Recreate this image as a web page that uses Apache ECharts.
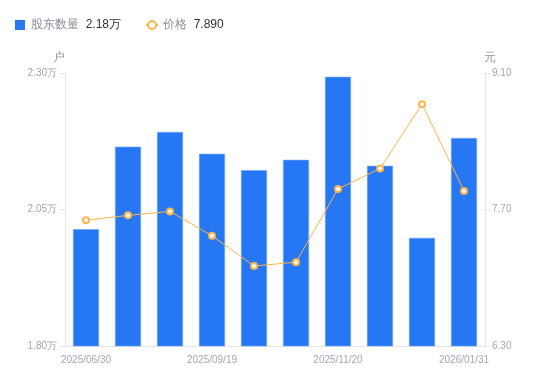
<!DOCTYPE html>
<html>
<head>
<meta charset="utf-8">
<script src="https://cdn.jsdelivr.net/npm/echarts@6/dist/echarts.min.js"></script>
<style>html,body{margin:0;padding:0;background:#fff;}#c{width:550px;height:381px;}</style>
</head>
<body>
<div id="c"></div>
<script>
const categories = ['2025/06/30','2025/07/31','2025/08/31','2025/09/19','2025/09/30','2025/10/31','2025/11/20','2025/11/30','2025/12/31','2026/01/31'];
const holders = [2.014, 2.165, 2.192, 2.152, 2.122, 2.141, 2.293, 2.130, 1.998, 2.181];
const prices = [7.59, 7.64, 7.68, 7.43, 7.12, 7.16, 7.91, 8.12, 8.78, 7.89];
const leftTicks = {min: 1.80, max: 2.30, interval: 0.25};
const rightTicks = {min: 6.30, max: 9.10, interval: 1.40};

const chart = echarts.init(document.getElementById('c'));
const latest = {'股东数量': holders[holders.length-1].toFixed(2) + '万', '价格': prices[prices.length-1].toFixed(3)};
const labelColor = '#A4A7B5';
const lineColor = '#E6E6EA';
chart.setOption({
  animation: false,
  textStyle: {fontFamily: 'sans-serif'},
  legend: {
    left: 15, top: 19, padding: 0,
    itemWidth: 12, itemHeight: 10, itemGap: 24,
    itemStyle: {borderWidth: 0},
    data: [{name: '股东数量', icon: 'path://M0,0H10V10H0Z'}, {name: '价格'}],
    formatter: n => '{n|' + n + '}  {v|' + latest[n] + '}',
    textStyle: {rich: {n: {color: '#8A8D99', fontSize: 12}, v: {color: '#333', fontSize: 12}}}
  },
  grid: {left: 65, right: 65, top: 73, bottom: 35},
  xAxis: {
    type: 'category', data: categories,
    axisLine: {lineStyle: {color: lineColor}},
    axisTick: {show: false},
    axisLabel: {interval: 2, color: labelColor, fontSize: 10, margin: 9}
  },
  yAxis: [{
    type: 'value', name: '户', min: leftTicks.min, max: leftTicks.max, interval: leftTicks.interval,
    nameTextStyle: {color: '#999', fontSize: 12, padding: [0, 12, 0, 0]}, nameGap: 9,
    axisLine: {show: true, lineStyle: {color: lineColor}},
    axisTick: {show: true, length: 5, lineStyle: {color: lineColor}},
    splitLine: {show: false},
    axisLabel: {color: labelColor, fontSize: 10, margin: 8, formatter: v => v.toFixed(2) + '万'}
  }, {
    type: 'value', name: '元', min: rightTicks.min, max: rightTicks.max, interval: rightTicks.interval,
    nameTextStyle: {color: '#999', fontSize: 12, padding: [0, 0, 0, 10]}, nameGap: 9,
    axisLine: {show: true, lineStyle: {color: lineColor}},
    axisTick: {show: true, length: 5, lineStyle: {color: lineColor}},
    splitLine: {show: false},
    axisLabel: {color: labelColor, fontSize: 10, margin: 7, formatter: v => v.toFixed(2)}
  }],
  series: [{
    name: '股东数量', type: 'bar', data: holders, yAxisIndex: 0,
    barWidth: 26,
    itemStyle: {color: '#2677F3', borderColor: '#6FA5F7', borderWidth: 0.6}
  }, {
    name: '价格', type: 'line', data: prices, yAxisIndex: 1,
    symbol: 'emptyCircle', symbolSize: 6,
    lineStyle: {color: '#FDB64A', width: 1},
    itemStyle: {color: '#FDB64A', borderWidth: 2}
  }]
});
</script>
</body>
</html>
